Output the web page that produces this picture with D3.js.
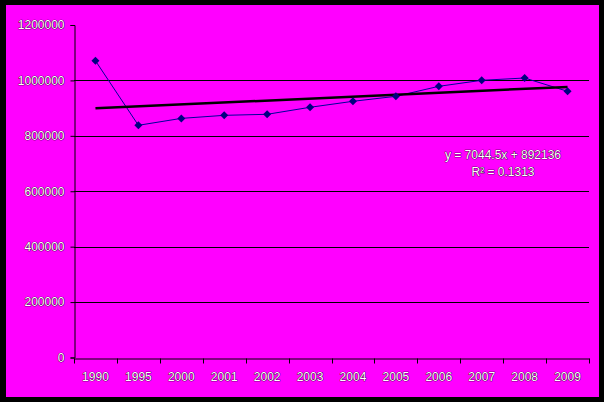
<!DOCTYPE html>
<html><head><meta charset="utf-8">
<script src="https://cdn.jsdelivr.net/npm/d3@7"></script>
<style>html,body{margin:0;padding:0;background:#000;}svg{display:block;}</style>
</head><body>
<script>
const categories = ["1990","1995","2000","2001","2002","2003","2004","2005","2006","2007","2008","2009"];
const values = [1071000, 838000, 863000, 874000, 877700, 903000, 924600, 942600, 978700, 1000400, 1008700, 960700];
const yTicks = [0, 200000, 400000, 600000, 800000, 1000000, 1200000];
const trendSlope = 7044.5;
const trendIntercept = 892136;
const equationLines = ["y = 7044.5x + 892136", "R² = 0.1313"];

(function(){
const W = 604, H = 402;
const svg = d3.select("body").append("svg").attr("width", W).attr("height", H);
svg.append("rect").attr("width", W).attr("height", H).attr("fill", "#000");
svg.append("rect").attr("x", 6).attr("y", 5).attr("width", 593).attr("height", 392).attr("fill", "#FF00FF");

const pLeft = 74, pRight = 589, pTop = 25, pBottom = 357.5;
const x = d3.scaleBand().domain(categories).range([pLeft, pRight]);
const y = d3.scaleLinear().domain([0, 1200000]).range([pBottom, pTop]);

const font = "'Liberation Sans', Arial, sans-serif";
function styleText(sel){
  sel.attr("font-family", font).attr("font-size", 12).attr("fill", "#fff")
     .attr("stroke", "#000").attr("stroke-width", 0.7).attr("paint-order", "stroke");
}

// gridlines (none at the top tick)
svg.append("g").selectAll("line").data(yTicks.filter(d => d > 0 && d < 1200000)).join("line")
  .attr("x1", pLeft).attr("x2", pRight).attr("y1", d => Math.round(y(d)) + 0.5).attr("y2", d => Math.round(y(d)) + 0.5)
  .attr("stroke", "#000").attr("stroke-width", 1);

// y axis
const yAxis = svg.append("g").attr("transform", `translate(${pLeft + 0.5},0)`)
  .call(d3.axisLeft(y).tickValues(yTicks).tickSize(4).tickPadding(6).tickFormat(d3.format("d")));
yAxis.select(".domain").attr("stroke", "#000").attr("stroke-width", 1);
yAxis.selectAll(".tick line").attr("stroke", "#000");
yAxis.selectAll(".tick text").call(styleText);

// x axis
const xAxis = svg.append("g").attr("transform", `translate(0,${Math.round(pBottom) + 0.5})`)
  .call(d3.axisBottom(x).tickSize(0).tickPadding(14));
xAxis.select(".domain").attr("stroke", "#000").attr("stroke-width", 1);
xAxis.selectAll(".tick text").call(styleText);
xAxis.append("g").selectAll("line").data(categories.concat(["end"])).join("line")
  .attr("x1", (d, i) => Math.round(pLeft + x.bandwidth() * i) + 0.5)
  .attr("x2", (d, i) => Math.round(pLeft + x.bandwidth() * i) + 0.5)
  .attr("y1", 0).attr("y2", 5).attr("stroke", "#000");

// data line
const cx = d => x(d) + x.bandwidth() / 2;
const line = d3.line().x((d, i) => cx(categories[i])).y(d => y(d));
svg.append("path").datum(values).attr("d", line).attr("fill", "none")
  .attr("stroke", "#000099").attr("stroke-width", 1);

// trend line
const tStart = trendSlope * 1 + trendIntercept;
const tEnd = trendSlope * categories.length + trendIntercept;
svg.append("line")
  .attr("x1", cx(categories[0])).attr("y1", y(tStart))
  .attr("x2", cx(categories[categories.length - 1])).attr("y2", y(tEnd))
  .attr("stroke", "#000").attr("stroke-width", 2.5);

// markers
svg.append("g").selectAll("path").data(values).join("path")
  .attr("d", d3.symbol().type(d3.symbolSquare).size(32))
  .attr("transform", (d, i) => `translate(${cx(categories[i])},${y(d)}) rotate(45)`)
  .attr("fill", "#000080");

// equation
svg.append("g").selectAll("text").data(equationLines).join("text")
  .attr("x", 503).attr("y", (d, i) => 159 + i * 17)
  .attr("text-anchor", "middle")
  .text(d => d)
  .call(styleText);
})();
</script>
</body></html>
